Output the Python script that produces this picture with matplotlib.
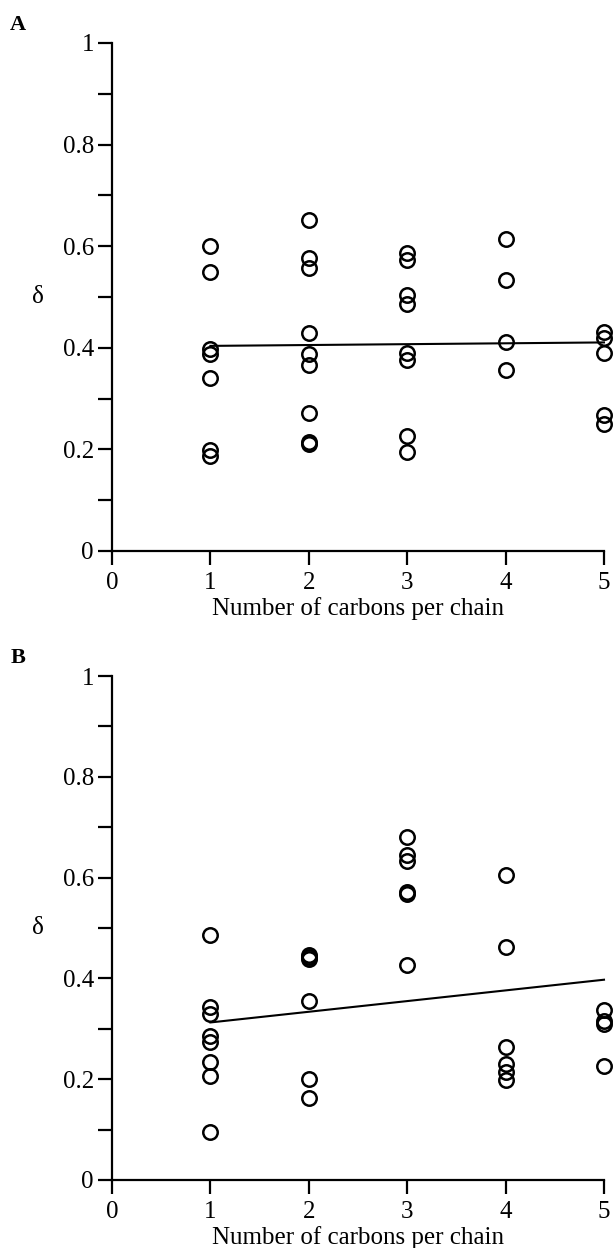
import matplotlib
matplotlib.use("Agg")
import matplotlib.pyplot as plt
import numpy as np
from matplotlib.ticker import MultipleLocator

plt.rcParams['font.family'] = ['Liberation Serif', 'DejaVu Serif']

# Panel A: delta versus number of carbons per chain
a_carbons = [1, 1, 1, 1, 1, 1, 1,
             2, 2, 2, 2, 2, 2, 2, 2, 2,
             3, 3, 3, 3, 3, 3, 3, 3,
             4, 4, 4, 4,
             5, 5, 5, 5, 5]
a_delta = [0.600, 0.549, 0.398, 0.388, 0.341, 0.199, 0.186,
           0.651, 0.577, 0.557, 0.430, 0.387, 0.366, 0.272, 0.214, 0.210,
           0.587, 0.572, 0.503, 0.487, 0.389, 0.376, 0.227, 0.195,
           0.615, 0.534, 0.412, 0.357,
           0.432, 0.420, 0.389, 0.267, 0.250]
a_fit = [0.402, 0.0017]   # intercept, slope

# Panel B
b_carbons = [1, 1, 1, 1, 1, 1, 1, 1,
             2, 2, 2, 2, 2, 2,
             3, 3, 3, 3, 3, 3,
             4, 4, 4, 4, 4, 4,
             5, 5, 5, 5]
b_delta = [0.487, 0.344, 0.330, 0.286, 0.273, 0.235, 0.207, 0.095,
           0.447, 0.443, 0.439, 0.356, 0.201, 0.162,
           0.681, 0.645, 0.632, 0.572, 0.567, 0.427,
           0.605, 0.462, 0.263, 0.230, 0.215, 0.199,
           0.338, 0.316, 0.310, 0.226]
b_fit = [0.2914, 0.0212]

fit_range = [1, 5]
x_ticks = [0, 1, 2, 3, 4, 5]
y_ticks = [0, 0.2, 0.4, 0.6, 0.8, 1]
y_tick_labels = ['0', '0.2', '0.4', '0.6', '0.8', '1']


def draw_panel(ax, xs, ys, fit, letter):
    ax.plot(xs, ys, 'o', ms=10.4, mfc='none', mec='black', mew=1.8, clip_on=False)
    fx = np.array(fit_range, dtype=float)
    ax.plot(fx, fit[0] + fit[1] * fx, color='black', lw=1.5, clip_on=False)

    ax.set_xlim(0, 5)
    ax.set_ylim(0, 1)
    ax.set_xticks(x_ticks)
    ax.set_yticks(y_ticks)
    ax.set_yticklabels(y_tick_labels)
    ax.yaxis.set_minor_locator(MultipleLocator(0.1))

    for side in ('top', 'right'):
        ax.spines[side].set_visible(False)
    for side in ('left', 'bottom'):
        ax.spines[side].set_linewidth(1.6)

    ax.tick_params(which='both', direction='out', length=10, width=1.6,
                   labelsize=18)
    ax.tick_params(axis='y', pad=3)
    ax.tick_params(axis='x', pad=5)

    ax.set_xlabel('Number of carbons per chain', fontsize=18, labelpad=2)
    ax.set_ylabel('δ', fontsize=18, rotation=0, va='center', ha='center')
    ax.yaxis.set_label_coords(-0.150, 0.5)

    ax.text(-0.191, 1.035, letter, transform=ax.transAxes, fontsize=16,
            fontweight='bold', ha='center', va='center')


fig = plt.figure(figsize=(6.13, 12.48), dpi=100)
ax_a = fig.add_axes([0.1827, 0.5585, 0.8026, 0.4071])
ax_b = fig.add_axes([0.1827, 0.0545, 0.8026, 0.4038])

draw_panel(ax_a, a_carbons, a_delta, a_fit, 'A')
draw_panel(ax_b, b_carbons, b_delta, b_fit, 'B')

fig.savefig('out.png', dpi=100, facecolor='white')
